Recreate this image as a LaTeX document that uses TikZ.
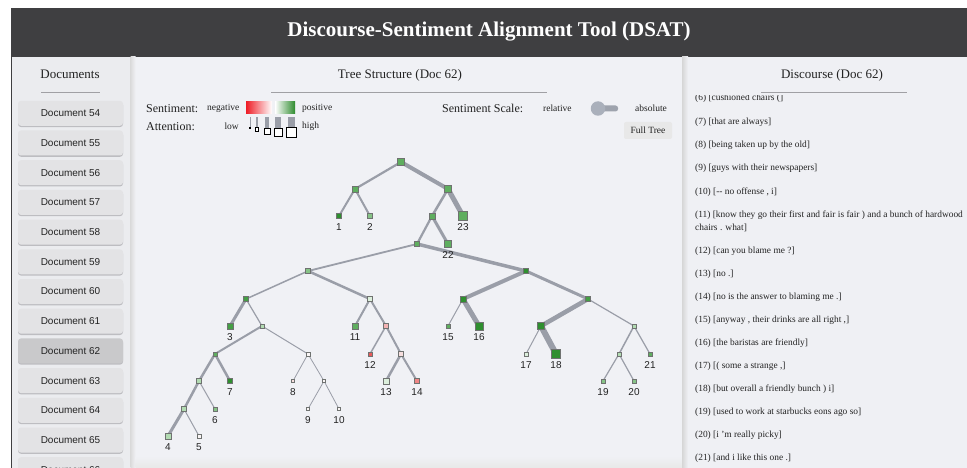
\documentclass[tikz,border=0pt]{standalone}
\usepackage{fontspec}
\setmainfont{Liberation Serif}
\setsansfont{Liberation Sans}
\pgfdeclarelayer{bg}
\pgfdeclarelayer{edges}
\pgfsetlayers{bg,edges,main}
\definecolor{hdr}{HTML}{3F3F41}
\definecolor{leftbg}{HTML}{EBECEF}
\definecolor{midbg}{HTML}{F0F1F5}
\definecolor{rightbg}{HTML}{EFF0F4}
\definecolor{btn}{HTML}{E3E3E5}
\definecolor{btnsel}{HTML}{C9C9CB}
\definecolor{btnshadow}{HTML}{BDBDC1}
\definecolor{txt}{HTML}{222222}
\definecolor{uline}{HTML}{A0A0A4}
\definecolor{edgecol}{HTML}{9A9EA8}
\definecolor{nodeborder}{HTML}{6F7270}
\definecolor{gA}{HTML}{2F8F2F}
\definecolor{gB}{HTML}{459F45}
\definecolor{gC}{HTML}{5FAE5F}
\definecolor{gD}{HTML}{86C386}
\definecolor{gE}{HTML}{B2DBB2}
\definecolor{gF}{HTML}{DCEFDC}
\definecolor{wN}{HTML}{F9F5F5}
\definecolor{pA}{HTML}{F6DEDE}
\definecolor{pB}{HTML}{F3B3B3}
\definecolor{pC}{HTML}{EF8585}
\definecolor{pD}{HTML}{E85A5A}
\definecolor{redg}{HTML}{EE1C25}
\definecolor{greeng}{HTML}{2E8B2E}
\definecolor{togtrack}{HTML}{9EA3AD}
\definecolor{togknob}{HTML}{AAB0BB}
\tikzset{
  tn/.style={draw=nodeborder, line width=0.5pt, inner sep=0pt, minimum size=#1, rectangle},
  ed/.style={draw=edgecol, line width=#1},
  leaflab/.style={font=\sffamily\fontsize{10}{12}\selectfont, text=txt, anchor=base, inner sep=0pt},
  ptitle/.style={font=\fontsize{13}{15}\selectfont, text=txt},
  legbig/.style={font=\fontsize{12}{14}\selectfont, text=txt, anchor=west, inner sep=0pt},
  legsmall/.style={font=\fontsize{9.5}{11}\selectfont, text=txt, anchor=west, inner sep=0pt},
  disc/.style={font=\fontsize{9.4}{11}\selectfont, text=txt, anchor=base west, inner sep=0pt},
}
\newcommand\tnd[5]{\node[tn=#4pt, fill=#5] (#1) at (#2,#3) {};}
\newcommand\tlf[5]{\node[tn=#4pt, fill=#5] (n#1) at (#2,#3) {};
  \node[leaflab] (lab#1) at (#2,#3+14.5) {#1};}
\begin{document}
\begin{tikzpicture}[x=1pt,y=-1pt]
\useasboundingbox (0,0) rectangle (967,468);
\clip (0,0) rectangle (967,468);
% ---------- background panels ----------
\begin{pgfonlayer}{bg}
\fill[white] (0,0) rectangle (967,468);
\fill[hdr] (11,8) rectangle (967,57);
\fill[leftbg] (11,57) rectangle (133,468);
\fill[hdr] (11,57) rectangle (12.4,468);
\fill[midbg] (133,57) rectangle (684,468);
\shade[left color=black!14, right color=midbg] (130.5,57) rectangle (135.5,468);
\shade[top color=midbg, bottom color=black!9] (135.5,456) rectangle (684,468);
\fill[rightbg] (684,57) rectangle (967,468);
\shade[left color=black!16, right color=rightbg] (682,57) rectangle (688,468);
\end{pgfonlayer}
% ---------- header ----------
\node[font=\bfseries\fontsize{21}{24}\selectfont, text=white] (title) at (489,32) {Discourse-Sentiment Alignment Tool (DSAT)};
% ---------- left panel ----------
\node[ptitle] (doctitle) at (70,74) {Documents};
\draw[uline, line width=0.8pt] (41,92) -- (100,92);
\foreach \i in {54,...,66}{
  \pgfmathsetmacro\yy{113.3+(\i-54)*29.7}
  \ifnum\i=62 \def\bc{btnsel}\else\def\bc{btn}\fi
  \fill[btnshadow, rounded corners=3pt] (18,\yy-12.5+1.3) rectangle (123,\yy+12.5+1.3);
  \node[fill=\bc, rounded corners=3pt, minimum width=105pt, minimum height=25pt, inner sep=0pt,
        font=\sffamily\fontsize{10}{12}\selectfont, text=txt] (doc\i) at (70.5,\yy) {Document \i};
}
% ---------- middle panel header & legend ----------
\node[ptitle] (treetitle) at (400,75) {Tree Structure (Doc 62)};
\draw[uline, line width=0.8pt] (271,92) -- (547,92);
\node[legbig] (sentlab) at (146,108.5) {Sentiment:};
\node[legsmall] (neglab) at (207,108.5) {negative};
\shade[left color=redg, right color=white] (246,102) rectangle (272,114);
\shade[left color=white, right color=greeng] (275,102) rectangle (295,114);
\node[legsmall] (poslab) at (302,108.5) {positive};
\node[legbig] (attlab) at (146,127) {Attention:};
\node[legsmall, anchor=east] (lowlab) at (239,126.5) {low};
\node[legsmall] (highlab) at (302,126.5) {high};
% attention glyphs
\fill[edgecol] (249.5,117) rectangle (250.5,128);
\node[fill=black, inner sep=0pt, minimum size=2.2pt] (att1) at (250,128) {};
\fill[edgecol] (255.8,117) rectangle (258.2,129.5);
\node[draw=black, fill=white, line width=0.6pt, inner sep=0pt, minimum size=3.5pt] (att2) at (257,129.5) {};
\fill[edgecol] (265,117) rectangle (269,131);
\node[draw=black, fill=white, line width=0.6pt, inner sep=0pt, minimum size=6pt] (att3) at (267,131) {};
\fill[edgecol] (275,117) rectangle (281,132);
\node[draw=black, fill=white, line width=0.6pt, inner sep=0pt, minimum size=8pt] (att4) at (278,132) {};
\fill[edgecol] (287.5,117) rectangle (294.5,132.5);
\node[draw=black, fill=white, line width=0.6pt, inner sep=0pt, minimum size=10pt] (att5) at (291,132.5) {};
% scale toggle
\node[legbig] (scalelab) at (442,108.5) {Sentiment Scale:};
\node[legsmall] (rellab) at (543,108.5) {relative};
\fill[togtrack, rounded corners=2.5pt] (598,105.5) rectangle (618,111.5);
\node[circle, fill=togknob, inner sep=0pt, minimum size=14.5pt] (knob) at (598,108.5) {};
\node[legsmall] (abslab) at (635,108.5) {absolute};
\node[fill=black!9, rounded corners=2pt, minimum width=48pt, minimum height=17pt, inner sep=0pt,
      font=\fontsize{9.5}{11}\selectfont, text=txt] (fulltree) at (648,130.5) {Full Tree};
% ---------- tree nodes ----------
\tnd{root}{401}{162}{7}{gC}
\tnd{a1}{355}{189}{6}{gC}
\tnd{a2}{448}{189}{7}{gC}
\tlf{1}{339}{216}{5}{gA}
\tlf{2}{370}{216}{5}{gD}
\tnd{a3}{432}{216}{6}{gC}
\tlf{23}{463}{216}{9}{gC}
\tnd{a4}{417}{244}{5}{gC}
\tlf{22}{448}{244}{7}{gC}
\tnd{a5}{308}{271}{5}{gD}
\tnd{a6}{526}{271}{5}{gA}
\tnd{a7}{246}{299}{5}{gB}
\tnd{a8}{370}{299}{5}{gF}
\tnd{a9}{463}{299}{6}{gA}
\tnd{a10}{588}{299}{5}{gB}
\tlf{3}{230}{326}{6}{gB}
\tnd{a11}{262}{326}{4}{gE}
\tlf{11}{355}{326}{6}{gC}
\tnd{a12}{386}{326}{5}{pB}
\tlf{15}{448}{326}{4}{gC}
\tlf{16}{479}{326}{8}{gA}
\tnd{a13}{541}{326}{7}{gA}
\tnd{a14}{634}{326}{4}{gE}
\tnd{a15}{215}{354}{4}{gC}
\tnd{a16}{308}{354}{4}{wN}
\tlf{12}{370}{354}{4}{pD}
\tnd{a17}{401}{354}{5}{pA}
\tlf{17}{526}{354}{4}{gF}
\tlf{18}{556}{354}{9}{gA}
\tnd{a18}{619}{354}{4}{gE}
\tlf{21}{650}{354}{4}{gC}
\tnd{a19}{199}{381}{5}{gE}
\tlf{7}{230}{381}{5}{gA}
\tlf{8}{293}{381}{3}{pA}
\tnd{a20}{324}{381}{3}{wN}
\tlf{13}{386}{381}{6}{gF}
\tlf{14}{417}{381}{5}{pC}
\tlf{19}{603}{381}{4}{gD}
\tlf{20}{634}{381}{4}{gD}
\tnd{a21}{184}{409}{5}{gE}
\tlf{6}{215}{409}{4}{gD}
\tlf{9}{308}{409}{3}{wN}
\tlf{10}{339}{409}{3}{wN}
\tlf{4}{168}{436}{6}{gE}
\tlf{5}{199}{436}{4}{wN}
% ---------- tree edges ----------
\begin{pgfonlayer}{edges}
\foreach \p/\c/\w in {root/a1/2.2, root/a2/4, a1/n1/2, a1/n2/2, a2/a3/2.5, a2/n23/5,
  a3/a4/2.2, a3/n22/3, a4/a5/1.8, a4/a6/3.5, a5/a7/1.5, a5/a8/2.5, a7/n3/3, a7/a11/1.2,
  a8/n11/2, a8/a12/2, a12/n12/1.5, a12/a17/2, a17/n13/2.5, a17/n14/2, a11/a15/2, a11/a16/1,
  a15/a19/2.5, a15/n7/2.5, a19/a21/2.5, a19/n6/1, a21/n4/3, a21/n5/1, a16/n8/0.8, a16/a20/0.8,
  a20/n9/0.8, a20/n10/0.8, a6/a9/4, a6/a10/3, a9/n15/1, a9/n16/5, a10/a13/4.5, a10/a14/1.2,
  a13/n17/1, a13/n18/6, a14/a18/1.5, a14/n21/1.2, a18/n19/1.2, a18/n20/1.2}{
  \draw[ed=\w pt] (\p.center) -- (\c.center);
}
\end{pgfonlayer}
% ---------- right panel ----------
\node[ptitle] (disctitle) at (832,75) {Discourse (Doc 62)};
\draw[uline, line width=0.8pt] (761,92) -- (907,92);
\begin{scope}
\clip (688,96) rectangle (967,468);
\node[disc] (d6) at (695,101) {(6) [cushioned chairs (]};
\node[disc] (d7) at (695,125) {(7) [that are always]};
\node[disc] (d8) at (695,148) {(8) [being taken up by the old]};
\node[disc] (d9) at (695,171) {(9) [guys with their newspapers]};
\node[disc] (d10) at (695,194) {(10) [-{}- no offense , i]};
\node[disc] (d11) at (695,217) {(11) [know they go their first and fair is fair ) and a bunch of hardwood};
\node[disc] (d11b) at (695,230) {chairs . what]};
\node[disc] (d12) at (695,253) {(12) [can you blame me ?]};
\node[disc] (d13) at (695,276) {(13) [no .]};
\node[disc] (d14) at (695,299) {(14) [no is the answer to blaming me .]};
\node[disc] (d15) at (695,322) {(15) [anyway , their drinks are all right ,]};
\node[disc] (d16) at (695,345) {(16) [the baristas are friendly]};
\node[disc] (d17) at (695,368) {(17) [( some a strange ,]};
\node[disc] (d18) at (695,391) {(18) [but overall a friendly bunch ) i]};
\node[disc] (d19) at (695,414) {(19) [used to work at starbucks eons ago so]};
\node[disc] (d20) at (695,437) {(20) [i 'm really picky]};
\node[disc] (d21) at (695,460) {(21) [and i like this one .]};
\end{scope}
\end{tikzpicture}
\end{document}
